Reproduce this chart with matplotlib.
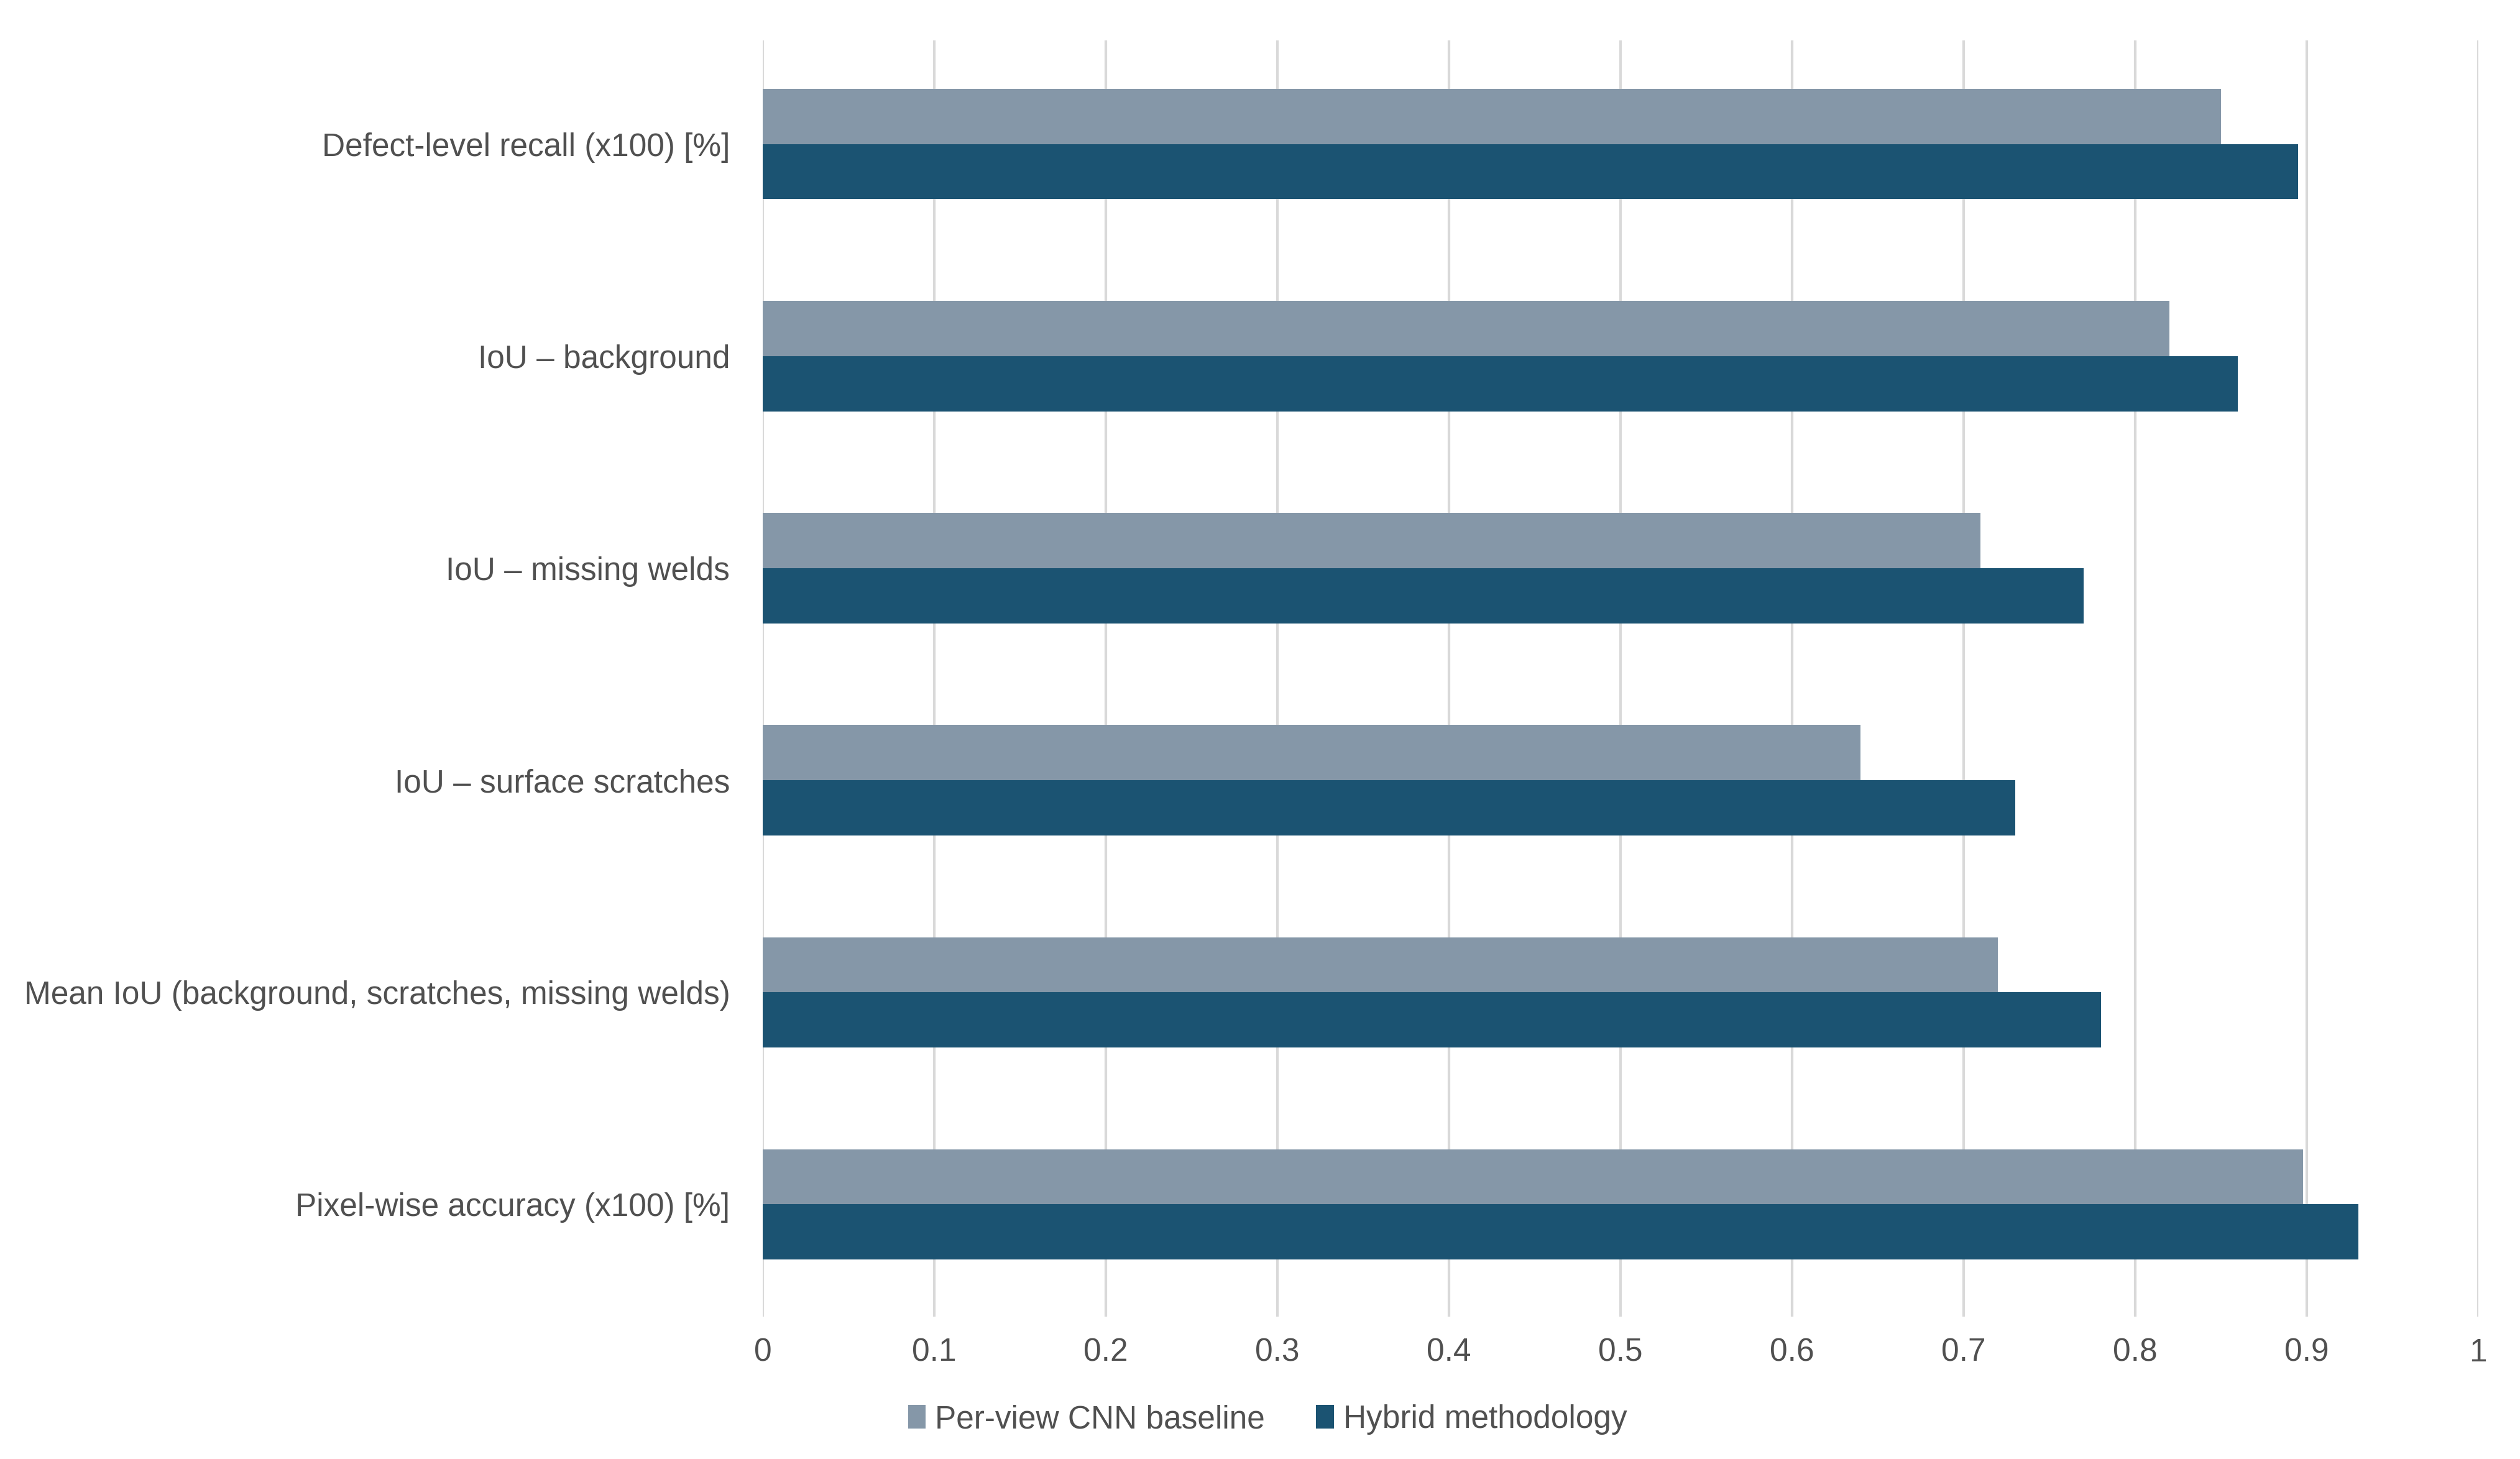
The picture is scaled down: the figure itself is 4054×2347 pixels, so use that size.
import numpy as np
from matplotlib import pyplot as plt

# categories listed bottom -> top (as in the Excel-style chart)
categories = ['Pixel-wise accuracy (x100) [%]',
              'Mean IoU (background, scratches, missing welds)',
              'IoU – surface scratches',
              'IoU – missing welds',
              'IoU – background',
              'Defect-level recall (x100) [%]']
baseline = [0.898, 0.72, 0.64, 0.71, 0.82, 0.85]
hybrid = [0.93, 0.78, 0.73, 0.77, 0.86, 0.895]
series_names = ['Per-view CNN baseline', 'Hybrid methodology']
x_ticks = [0, 0.1, 0.2, 0.3, 0.4, 0.5, 0.6, 0.7, 0.8, 0.9, 1]

if __name__ == '__main__':
    plt.rcParams['font.family'] = ['Liberation Sans', 'DejaVu Sans']
    text_color = '#505050'
    c_base, c_hyb = '#8597a8', '#1b5372'

    fig = plt.figure(figsize=(40.54, 23.47), dpi=100)
    ax = fig.add_axes([0.3027, 0.0975, 0.6807, 0.875])

    y = np.arange(len(categories))
    h = 0.26
    ax.barh(y + h / 2, baseline, height=h, color=c_base, label=series_names[0], zorder=3)
    ax.barh(y - h / 2, hybrid, height=h, color=c_hyb, label=series_names[1], zorder=3)

    ax.set_xlim(0, 1)
    ax.set_ylim(-0.53, len(categories) - 0.51)
    ax.set_xticks(x_ticks)
    ax.set_xticklabels(['%g' % v for v in x_ticks])
    ax.set_yticks(y)
    ax.set_yticklabels(categories)
    ax.tick_params(axis='both', length=0, labelsize=37, labelcolor=text_color)
    ax.tick_params(axis='x', pad=24)
    ax.tick_params(axis='y', pad=38)
    ax.grid(axis='x', color='#d9d9d9', linewidth=3, zorder=0)
    for s in ax.spines.values():
        s.set_visible(False)

    ax.legend(loc='center', bbox_to_anchor=(0.503, 0.027), bbox_transform=fig.transFigure,
              ncol=2, frameon=False, fontsize=37, labelcolor=text_color,
              handlelength=0.55, handleheight=0.75, handletextpad=0.3, columnspacing=1.6)

    fig.savefig('out.png', dpi=100, facecolor='white')
